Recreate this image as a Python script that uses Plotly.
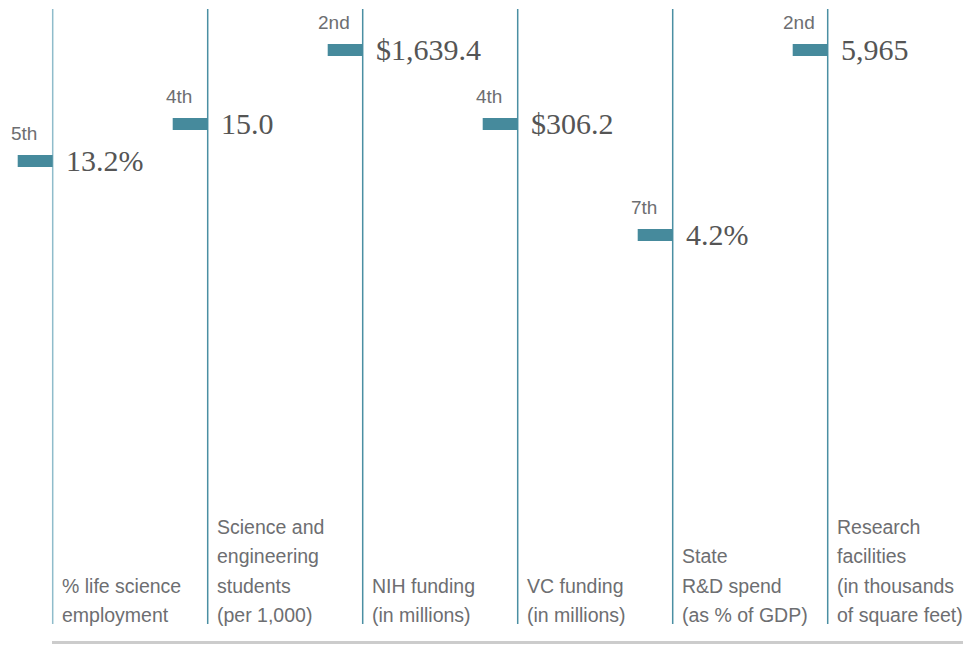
import plotly.graph_objects as go

categories = [
    "% life science<br>employment",
    "Science and<br>engineering<br>students<br>(per 1,000)",
    "NIH funding<br>(in millions)",
    "VC funding<br>(in millions)",
    "State<br>R&D spend<br>(as % of GDP)",
    "Research<br>facilities<br>(in thousands<br>of square feet)",
]
ranks = [5, 4, 2, 4, 7, 2]
rank_labels = ["5th", "4th", "2nd", "4th", "7th", "2nd"]
value_labels = ["13.2%", "15.0", "$1,639.4", "$306.2", "4.2%", "5,965"]

W, H = 965, 645
col_px0, col_step = 52.7, 155.0
rank_px0, rank_step = -24.0, 37.0

xpos = list(range(len(categories)))
bar_len = 35 / col_step


def py(p):
    """page pixel y -> paper fraction"""
    return 1 - p / H


def px(p):
    """page pixel x -> paper fraction"""
    return p / W


fig = go.Figure()
fig.add_trace(go.Bar(
    orientation="h",
    y=ranks,
    x=[bar_len] * len(ranks),
    base=[i - bar_len for i in xpos],
    width=12 / rank_step,
    marker=dict(color="#468a9c", line=dict(width=0)),
    hoverinfo="skip",
))

shapes = []
for i in xpos:
    shapes.append(dict(
        type="line", xref="x", yref="paper",
        x0=i, x1=i, y0=py(9), y1=py(624),
        line=dict(color="#8fbccb" if i == 0 else "#4a8fa3", width=1.5),
        layer="below",
    ))
shapes.append(dict(
    type="line", xref="paper", yref="paper",
    x0=px(52), x1=px(963), y0=py(642.5), y1=py(642.5),
    line=dict(color="#cccccc", width=3),
))

annotations = []
for i, r, rl, vl, cat in zip(xpos, ranks, rank_labels, value_labels, categories):
    annotations.append(dict(
        x=i, y=r, xref="x", yref="y", text=vl, showarrow=False,
        xanchor="left", yanchor="middle", xshift=11, yshift=1,
        font=dict(family="Liberation Serif", size=30, color="#555555"),
    ))
    annotations.append(dict(
        x=i - 29 / col_step, y=r, xref="x", yref="y", text=rl, showarrow=False,
        xanchor="center", yanchor="middle", yshift=28,
        font=dict(family="Liberation Sans", size=19, color="#6d6e71"),
    ))
    lines = cat.split("<br>")
    for k, line in enumerate(reversed(lines)):
        annotations.append(dict(
            x=i, y=py(615), xref="x", yref="paper", text=line, showarrow=False,
            xanchor="left", yanchor="middle", xshift=7, yshift=k * 29.3,
            font=dict(family="Liberation Sans", size=19.5, color="#6d6e71"),
        ))

fig.update_layout(
    width=W, height=H,
    margin=dict(l=0, r=0, t=0, b=0),
    paper_bgcolor="white", plot_bgcolor="white",
    showlegend=False,
    barmode="overlay",
    hovermode=False,
    xaxis=dict(range=[-col_px0 / col_step, (W - col_px0) / col_step], visible=False, fixedrange=True),
    yaxis=dict(range=[(H - rank_px0) / rank_step, -rank_px0 / rank_step], visible=False, fixedrange=True),
    shapes=shapes,
    annotations=annotations,
)

fig.write_html(
    "out.html",
    config={"displayModeBar": False, "staticPlot": True},
    post_script="document.body.style.margin='0px';document.body.style.overflow='hidden';",
)
